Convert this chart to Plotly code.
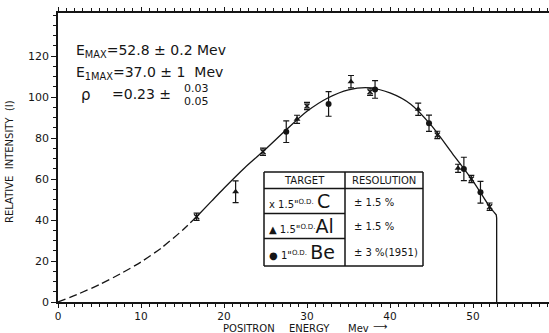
import plotly.graph_objects as go

# ---- data ----
# smooth curve (dashed part, solid part, end-point drop)
curve_dash_E = [0, 2.5, 5, 7.5, 10, 12.5, 15, 16.7]
curve_dash_I = [0, 4.0, 8.5, 13.7, 19.5, 26.5, 35.0, 41.6]
curve_solid_E = [16.7, 18.5, 20, 22.5, 25, 27.5, 30, 32.5, 35, 37.5, 40, 42.5, 45, 47.5, 50, 52, 52.5]
curve_solid_I = [41.6, 49.2, 55.5, 65.5, 74.5, 84, 93, 99.5, 103.5, 104.5, 102, 96.5, 86, 72.5, 59, 46.5, 44]
curve_drop_E = [52.5, 52.8, 52.85, 52.85]
curve_drop_I = [44, 42.5, 41, 0]

# target C (x markers)
c_E = [16.7, 24.7, 30.0, 37.6, 45.7, 49.8, 52.0]
c_I = [41.6, 73.3, 95.6, 102.6, 81.5, 60.0, 46.5]
c_err = [1.8, 1.8, 1.8, 1.8, 1.8, 1.8, 1.8]

# target Al (triangles)
al_E = [21.4, 28.8, 35.3, 43.4, 48.2]
al_I = [53.8, 89.1, 107.5, 94.0, 65.2]
al_err = [5.3, 2.0, 3.0, 3.0, 2.0]

# target Be (dots)
be_E = [27.5, 32.6, 38.2, 44.7, 48.9, 50.9]
be_I = [83.1, 96.6, 103.7, 87.2, 64.9, 53.5]
be_err = [5.3, 6.0, 4.3, 4.0, 5.7, 5.3]

x_ticks = [0, 10, 20, 30, 40, 50]
y_ticks = [0, 20, 40, 60, 80, 100, 120]

INK = "#151515"
FONT = "DejaVu Sans"

fig = go.Figure()
fig.add_trace(go.Scatter(x=curve_dash_E, y=curve_dash_I, mode="lines",
                         line=dict(color=INK, width=1.3, dash="8px,4px", shape="spline", smoothing=0.6),
                         showlegend=False, hoverinfo="skip"))
fig.add_trace(go.Scatter(x=curve_solid_E, y=curve_solid_I, mode="lines",
                         line=dict(color=INK, width=1.3, shape="spline", smoothing=0.8),
                         showlegend=False, hoverinfo="skip"))
fig.add_trace(go.Scatter(x=curve_drop_E, y=curve_drop_I, mode="lines",
                         line=dict(color=INK, width=1.3, shape="linear"),
                         showlegend=False, hoverinfo="skip"))

err_style = dict(type="data", thickness=1.2, width=3, color=INK)
fig.add_trace(go.Scatter(x=c_E, y=c_I, mode="markers",
                         marker=dict(symbol="x-thin", size=5, line=dict(color=INK, width=1.5)),
                         error_y=dict(array=c_err, **err_style), showlegend=False))
fig.add_trace(go.Scatter(x=al_E, y=al_I, mode="markers",
                         marker=dict(symbol="triangle-up", size=6, color=INK),
                         error_y=dict(array=al_err, **err_style), showlegend=False))
fig.add_trace(go.Scatter(x=be_E, y=be_I, mode="markers",
                         marker=dict(symbol="circle", size=6, color=INK),
                         error_y=dict(array=be_err, **err_style), showlegend=False))

L, T, B = 58, 13, 302
PW, PH = 549 - L, B - T


def px(x):
    return (x - L) / PW


def py(y):
    return (B - y) / PH


anns = []


def note(text, x, y, size=11, xanchor="left", **kw):
    anns.append(dict(text=text, x=px(x), y=py(y), xref="paper", yref="paper",
                     xanchor=xanchor, yanchor="middle", showarrow=False,
                     font=dict(family=FONT, size=size, color=INK), **kw))


note("E<sub>MAX</sub>=52.8 ± 0.2 Mev", 74, 51, size=14)
note("E<sub>1MAX</sub>=37.0 ± 1  Mev", 74, 73, size=14)
note("ρ", 79, 95, size=15)
note("=0.23 ± ", 110, 94, size=14)
note("0.03", 182, 88, size=11)
note("0.05", 182, 101, size=11)

# table text
note("TARGET", 304.5, 180.5, size=10, xanchor="center")
note("RESOLUTION", 384, 180.5, size=10, xanchor="center")
note('x 1.5"<sup>O.D.</sup> <span style="font-size:19px">C</span>', 267, 201, size=10)
note('▲ 1.5"<sup>O.D.</sup><span style="font-size:19px">Al</span>', 267, 226, size=10)
note('● 1"<sup>O.D.</sup> <span style="font-size:19px">Be</span>', 267, 252, size=10)
note("± 1.5 %", 352, 202, size=10)
note("± 1.5 %", 352, 226, size=10)
note("± 3 %(1951)", 352, 252, size=10)

# axis titles
note("RELATIVE\u00a0\u00a0INTENSITY\u00a0\u00a0(I)", 9, 162, size=10, xanchor="center", textangle=-90)
note("POSITRON", 221, 328, size=10)
note("ENERGY", 287, 328, size=10)
note("Mev", 346, 328, size=10)
note("⟶", 371, 326.5, size=10)

# table frame
shapes = []


def hline(x0, x1, y):
    shapes.append(dict(type="line", xref="paper", yref="paper", x0=px(x0), x1=px(x1), y0=py(y), y1=py(y),
                       line=dict(color=INK, width=1.5)))


def vline(x, y0, y1):
    shapes.append(dict(type="line", xref="paper", yref="paper", x0=px(x), x1=px(x), y0=py(y0), y1=py(y1),
                       line=dict(color=INK, width=1.5)))


hline(264, 423, 172)
hline(264, 423, 188.5)
hline(264, 345, 213.5)
hline(264, 345, 238.5)
hline(264, 423, 266)
vline(264, 172, 266)
vline(345, 172, 266)
vline(423, 172, 266)

fig.update_layout(
    width=549, height=333,
    margin=dict(l=L, r=0, t=T, b=333 - B),
    paper_bgcolor="white", plot_bgcolor="white",
    annotations=anns, shapes=shapes,
    font=dict(family=FONT, size=11, color=INK),
    xaxis=dict(range=[0, PW / 8.3], tickvals=x_ticks, showgrid=False, zeroline=False,
               showline=True, linecolor=INK, linewidth=1.5, mirror="ticks",
               ticks="outside", ticklen=4, tickwidth=1.3, tickcolor=INK,
               minor=dict(dtick=1, ticks="outside", ticklen=3, tickwidth=1, tickcolor=INK),
               tickfont=dict(family=FONT, size=10.5, color=INK)),
    yaxis=dict(range=[0, PH / 2.05], tickvals=y_ticks, showgrid=False, zeroline=False,
               showline=True, linecolor=INK, linewidth=1.5,
               ticks="outside", ticklen=5, tickwidth=1.3, tickcolor=INK,
               minor=dict(dtick=5, ticks="outside", ticklen=3, tickwidth=1, tickcolor=INK),
               tickfont=dict(family=FONT, size=11, color=INK)),
)

fig.write_html("out.html", config={"displayModeBar": False},
               post_script="document.body.style.margin='0';document.body.style.overflow='hidden';")
